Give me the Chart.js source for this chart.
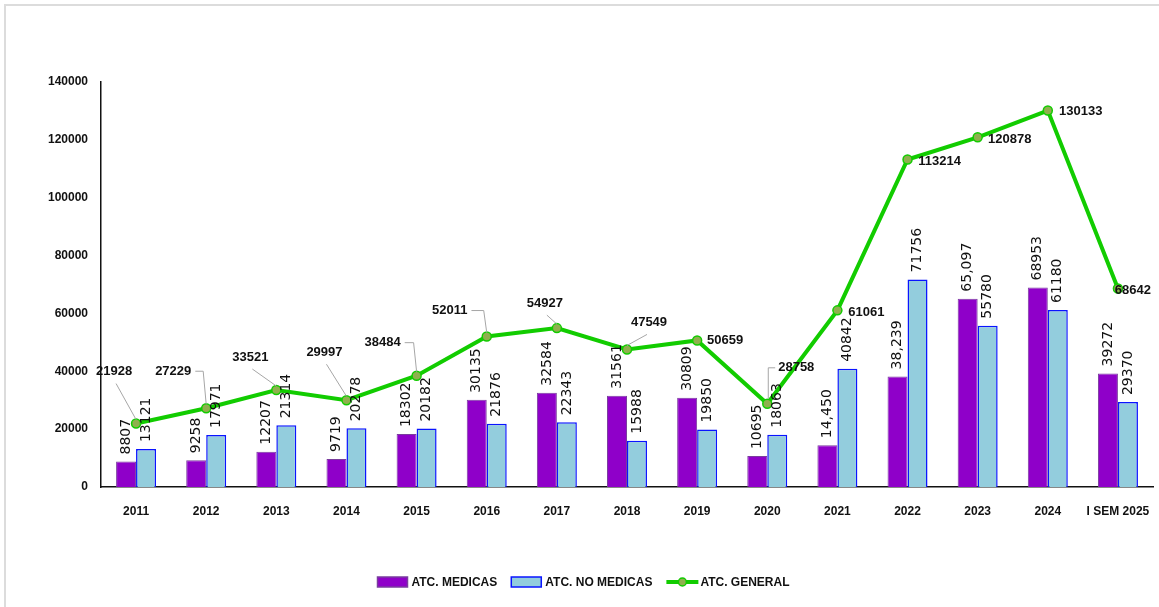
<!DOCTYPE html>
<html>
<head>
<meta charset="utf-8">
<script src="https://cdn.jsdelivr.net/npm/chart.js@4.4.1/dist/chart.umd.min.js"></script>
<style>
  html, body { margin: 0; padding: 0; background: #fff; overflow: hidden; }
  #frame { position: absolute; left: 4px; top: 4px; width: 1300px; height: 800px; border: 2px solid #dcdcdc; }
  #wrap { position: absolute; left: 0; top: 0; width: 1159px; height: 607px; }
</style>
</head>
<body>
<div id="frame"></div>
<div id="wrap"><canvas id="grafico" width="1159" height="607"></canvas></div>
<script>
// categorías del eje X
const categorias = ["2011", "2012", "2013", "2014", "2015", "2016", "2017", "2018", "2019", "2020", "2021", "2022", "2023", "2024", "I SEM 2025"];

// atenciones médicas
const atcMedicas = [8807, 9258, 12207, 9719, 18302, 30135, 32584, 31561, 30809, 10695, 14450, 38239, 65097, 68953, 39272];
const atcMedicasEtiquetas = ["8807", "9258", "12207", "9719", "18302", "30135", "32584", "31561", "30809", "10695", "14,450", "38,239", "65,097", "68953", "39272"];

// atenciones no médicas
const atcNoMedicas = [13121, 17971, 21314, 20278, 20182, 21876, 22343, 15988, 19850, 18063, 40842, 71756, 55780, 61180, 29370];

// atenciones en general
const atcGeneral = [21928, 27229, 33521, 29997, 38484, 52011, 54927, 47549, 50659, 28758, 61061, 113214, 120878, 130133, 68642];

// ticks del eje Y
const ticksY = [0, 20000, 40000, 60000, 80000, 100000, 120000, 140000];

// desplazamiento de las etiquetas de la línea (dx, dy, tipo de guía)
const posEtiquetasGeneral = [
  [-22, -52, "recta"], [-33, -37, "codo"], [-26, -33, "recta"], [-22, -48, "recta"],
  [-34, -33, "codo"], [-37, -26, "codo"], [-12, -25, "recta"], [22, -27, "recta"],
  [28, 0, ""], [29, -36, "codoDer"], [29, 2, ""], [32, 2, ""], [32, 2, ""], [33, 1, ""], [15, 2, ""]
];

const fuenteEje = "bold 12px 'Liberation Sans', Arial, sans-serif";

const etiquetasPlugin = {
  id: "etiquetas",
  afterDatasetsDraw(chart) {
    const ctx = chart.ctx;

    // valores verticales sobre las barras
    [0, 1].forEach((i) => {
      const meta = chart.getDatasetMeta(i);
      const textos = i === 0 ? atcMedicasEtiquetas : atcNoMedicas.map(String);
      meta.data.forEach((barra, j) => {
        ctx.save();
        ctx.translate(barra.x, barra.y - 7);
        ctx.rotate(-Math.PI / 2);
        ctx.font = "14px 'DejaVu Sans', sans-serif";
        ctx.fillStyle = "#111";
        ctx.textAlign = "left";
        ctx.textBaseline = "middle";
        ctx.fillText(textos[j], 0, 0);
        ctx.restore();
      });
    });

    // valores de la línea con sus guías
    const metaLinea = chart.getDatasetMeta(2);
    metaLinea.data.forEach((p, j) => {
      const [dx, dy, tipo] = posEtiquetasGeneral[j];
      const tx = p.x + dx;
      const ty = p.y + dy;
      const texto = String(atcGeneral[j]);
      ctx.save();
      ctx.font = "bold 13px 'Liberation Sans', Arial, sans-serif";
      const ancho = ctx.measureText(texto).width;
      ctx.strokeStyle = "#a6a6a6";
      ctx.lineWidth = 1;
      ctx.beginPath();
      if (tipo === "recta") {
        ctx.moveTo(tx + (dx > 0 ? -2 : 2), ty + 12);
        ctx.lineTo(p.x, p.y - 4);
      } else if (tipo === "codo") {
        ctx.moveTo(tx + ancho / 2 + 4, ty);
        ctx.lineTo(p.x - 3, ty);
        ctx.lineTo(p.x, p.y - 4);
      } else if (tipo === "codoDer") {
        ctx.moveTo(tx - ancho / 2 - 3, ty);
        ctx.lineTo(p.x + 1, ty);
        ctx.lineTo(p.x + 1, p.y - 5);
      }
      ctx.stroke();
      ctx.fillStyle = "#111";
      ctx.textAlign = "center";
      ctx.textBaseline = "middle";
      ctx.fillText(texto, tx, ty);
      ctx.restore();
    });
  },
  afterDraw(chart) {
    // leyenda personalizada
    const ctx = chart.ctx;
    const y = 582;
    ctx.save();
    ctx.font = fuenteEje;
    ctx.textBaseline = "middle";
    ctx.textAlign = "left";
    ctx.fillStyle = "#111";
    const items = [
      { texto: "ATC. MEDICAS", tipo: "caja", ds: 0 },
      { texto: "ATC. NO MEDICAS", tipo: "caja", ds: 1 },
      { texto: "ATC. GENERAL", tipo: "linea", ds: 2 }
    ];
    const anchos = items.map((it) => 32 + 2 + ctx.measureText(it.texto).width);
    const sep = 14;
    const total = anchos.reduce((a, b) => a + b, 0) + sep * (items.length - 1);
    let x = (chart.width - total) / 2 + 4;
    items.forEach((it, k) => {
      const ds = chart.data.datasets[it.ds];
      if (it.tipo === "caja") {
        ctx.fillStyle = ds.backgroundColor;
        ctx.fillRect(x, y - 5, 30, 10);
        ctx.strokeStyle = ds.borderColor;
        ctx.lineWidth = 1.5;
        ctx.strokeRect(x, y - 5, 30, 10);
      } else {
        ctx.strokeStyle = ds.borderColor;
        ctx.lineWidth = 4;
        ctx.beginPath();
        ctx.moveTo(x, y);
        ctx.lineTo(x + 32, y);
        ctx.stroke();
        ctx.beginPath();
        ctx.arc(x + 16, y, 4, 0, Math.PI * 2);
        ctx.fillStyle = ds.pointBackgroundColor;
        ctx.fill();
        ctx.lineWidth = 1.5;
        ctx.stroke();
      }
      ctx.fillStyle = "#111";
      ctx.fillText(it.texto, x + 34, y + 1);
      x += anchos[k] + sep;
    });
    ctx.restore();
  }
};

new Chart(document.getElementById("grafico"), {
  type: "bar",
  data: {
    labels: categorias,
    datasets: [
      {
        label: "ATC. MEDICAS",
        data: atcMedicas,
        backgroundColor: "#8f00c9",
        borderColor: "#7a3d9e",
        borderWidth: 1,
        categoryPercentage: 0.57,
        barPercentage: 1,
        order: 1
      },
      {
        label: "ATC. NO MEDICAS",
        data: atcNoMedicas,
        backgroundColor: "#93cddd",
        borderColor: "#0a14ff",
        borderWidth: 1.5,
        categoryPercentage: 0.57,
        barPercentage: 1,
        order: 1
      },
      {
        type: "line",
        label: "ATC. GENERAL",
        data: atcGeneral,
        borderColor: "#12cc00",
        borderWidth: 4,
        pointBackgroundColor: "#8fb04e",
        pointBorderColor: "#12cc00",
        pointBorderWidth: 1.5,
        pointRadius: 4.5,
        tension: 0,
        order: 0
      }
    ]
  },
  options: {
    responsive: false,
    devicePixelRatio: 1,
    animation: false,
    layout: { padding: { left: 0, right: 0, top: 82, bottom: 80 } },
    plugins: {
      legend: { display: false },
      tooltip: { enabled: false }
    },
    scales: {
      x: {
        grid: { display: false, drawTicks: false },
        border: { display: true, color: "#111", width: 1.5 },
        ticks: { color: "#111", font: { family: "'Liberation Sans', Arial, sans-serif", size: 12, weight: "bold" }, padding: 17, maxRotation: 0 },
        afterFit: (escala) => {
          escala.height = 40;
          escala.paddingLeft = 0;
          escala.paddingRight = 0;
        }
      },
      y: {
        min: 0,
        max: 140000,
        grid: { display: false, drawTicks: false },
        border: { display: true, color: "#111", width: 1.5 },
        afterBuildTicks: (escala) => { escala.ticks = ticksY.map((v) => ({ value: v })); },
        ticks: {
          color: "#111",
          font: { family: "'Liberation Sans', Arial, sans-serif", size: 12, weight: "bold" },
          padding: 13,
          callback: (v) => String(v)
        },
        afterFit: (escala) => { escala.width = 101; }
      }
    }
  },
  plugins: [etiquetasPlugin]
});
</script>
</body>
</html>
